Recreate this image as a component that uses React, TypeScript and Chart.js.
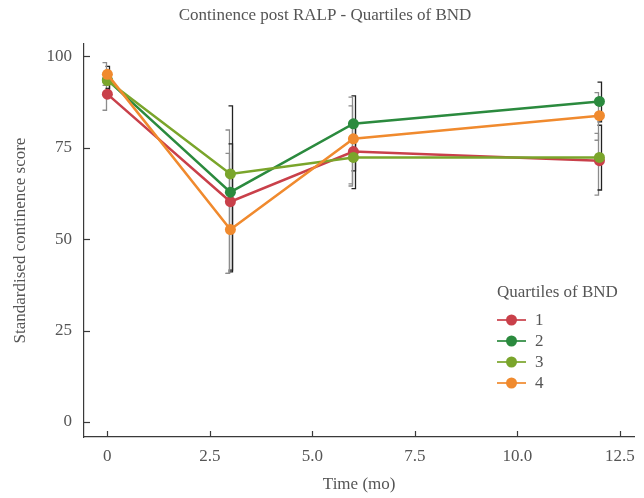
import React, { useEffect, useRef } from "react";
import { Chart, registerables } from "chart.js";

Chart.register(...registerables);

// ---- data ----
const months = [0, 3, 6, 12];
const groupNames = ["1", "2", "3", "4"];
const q1Mean = [89.6, 60.2, 73.9, 71.4];
const q2Mean = [93.5, 62.8, 81.5, 87.6];
const q3Mean = [93.3, 67.8, 72.3, 72.3];
const q4Mean = [95.0, 52.6, 77.4, 83.7];
const q1Low = [85.2, 40.6, 64.5, 62.0];
const q1High = [93.8, 79.8, 86.4, 78.9];
const q2Low = [90.0, 41.0, 68.6, 82.0];
const q2High = [97.2, 76.0, 89.1, 92.9];
const q3Low = [91.2, 41.5, 63.8, 63.4];
const q3High = [96.0, 86.4, 80.5, 81.1];
const q4Low = [92.0, 40.6, 65.1, 77.0];
const q4High = [98.2, 73.4, 88.8, 90.0];
const xTickValues = [0, 2.5, 5, 7.5, 10, 12.5];
const xTickLabels = ["0", "2.5", "5.0", "7.5", "10.0", "12.5"];
const yTickValues = [0, 25, 50, 75, 100];
const yTickLabels = ["0", "25", "50", "75", "100"];

const titleText = "Continence post RALP - Quartiles of BND";
const xTitle = "Time (mo)";
const yTitle = "Standardised continence score";
const legendTitle = "Quartiles of BND";

// ---- styles ----
const FONT = "'Liberation Serif', 'Times New Roman', serif";
const TEXT = "#555555";
const AXIS = "#3a3a3a";
const colors = ["#c9404a", "#2b8a3e", "#7aa52b", "#f08a2e"];
const errColors = ["#8c8c8c", "#222222", "#222222", "#8c8c8c"];
const errDx = [-1.5, 1.5, 1.5, -1.5];

const means = [q1Mean, q2Mean, q3Mean, q4Mean];
const lows = [q1Low, q2Low, q3Low, q4Low];
const highs = [q1High, q2High, q3High, q4High];

const errorBarPlugin = {
  id: "errorBars",
  beforeDatasetsDraw(chart: any) {
    const { ctx } = chart;
    const xs = chart.scales.x;
    const ys = chart.scales.y;
    ctx.save();
    ctx.lineWidth = 1.3;
    for (let i = 0; i < means.length; i++) {
      ctx.strokeStyle = errColors[i];
      months.forEach((m, j) => {
        const x = Math.round(xs.getPixelForValue(m) + errDx[i]) + 0.5;
        const yl = ys.getPixelForValue(lows[i][j]);
        const yh = ys.getPixelForValue(highs[i][j]);
        ctx.beginPath();
        ctx.moveTo(x - 4, yh);
        ctx.lineTo(x, yh);
        ctx.lineTo(x, yl);
        ctx.lineTo(x - 4, yl);
        ctx.stroke();
      });
    }
    ctx.restore();
  },
};

const innerTicksPlugin = {
  id: "innerTicks",
  afterDraw(chart: any) {
    const { ctx, chartArea } = chart;
    const xs = chart.scales.x;
    const ys = chart.scales.y;
    ctx.save();
    ctx.strokeStyle = AXIS;
    ctx.lineWidth = 1.2;
    yTickValues.forEach((v) => {
      const y = Math.round(ys.getPixelForValue(v)) + 0.5;
      ctx.beginPath();
      ctx.moveTo(chartArea.left, y);
      ctx.lineTo(chartArea.left + 6, y);
      ctx.stroke();
    });
    xTickValues.forEach((v) => {
      const x = Math.round(xs.getPixelForValue(v)) + 0.5;
      ctx.beginPath();
      ctx.moveTo(x, chartArea.bottom);
      ctx.lineTo(x, chartArea.bottom - 6);
      ctx.stroke();
    });
    ctx.restore();
  },
};

const titleAndLegendPlugin = {
  id: "titleAndLegend",
  afterDraw(chart: any) {
    const { ctx } = chart;
    ctx.save();
    ctx.font = `17px ${FONT}`;
    ctx.fillStyle = TEXT;
    ctx.textBaseline = "middle";
    ctx.textAlign = "center";
    ctx.fillText(titleText, 325, 16);
    ctx.textAlign = "left";
    ctx.fillText(legendTitle, 497, 293);
    const rowY = [320, 341, 362, 383];
    groupNames.forEach((name, i) => {
      const y = rowY[i];
      ctx.strokeStyle = colors[i];
      ctx.globalAlpha = 0.85;
      ctx.lineWidth = 2;
      ctx.beginPath();
      ctx.moveTo(497, y);
      ctx.lineTo(526, y);
      ctx.stroke();
      ctx.globalAlpha = 1;
      ctx.fillStyle = colors[i];
      ctx.beginPath();
      ctx.arc(511.5, y, 5.5, 0, Math.PI * 2);
      ctx.fill();
      ctx.fillStyle = TEXT;
      ctx.fillText(name, 535, y + 1);
    });
    ctx.restore();
  },
};

export default function App() {
  const canvasRef = useRef<HTMLCanvasElement | null>(null);

  useEffect(() => {
    if (!canvasRef.current) return;
    const datasets = means.map((vals, i) => ({
      label: groupNames[i],
      data: months.map((m, j) => ({ x: m, y: vals[j] })),
      borderColor: colors[i],
      backgroundColor: colors[i],
      borderWidth: 2.5,
      pointRadius: 5.5,
      pointHoverRadius: 5.5,
      pointBorderWidth: 0,
      showLine: true,
      order: 4 - i,
    }));

    const chart = new Chart(canvasRef.current, {
      type: "scatter",
      data: { datasets },
      options: {
        responsive: false,
        animation: false,
        devicePixelRatio: 1,
        layout: { padding: { left: 0, right: 7, top: 44, bottom: 0 } },
        plugins: {
          legend: { display: false },
          tooltip: { enabled: false },
          title: { display: false },
        },
        scales: {
          x: {
            type: "linear",
            min: -0.57,
            max: 12.85,
            afterFit: (s: any) => {
              s.height = 61;
            },
            afterBuildTicks: (s: any) => {
              s.ticks = xTickValues.map((v) => ({ value: v }));
            },
            grid: { display: false, drawTicks: false },
            border: { display: true, color: AXIS, width: 1.2 },
            ticks: {
              color: TEXT,
              font: { family: FONT, size: 17 },
              padding: 9,
              maxRotation: 0,
              autoSkip: false,
              callback: (v: any) => {
                const k = xTickValues.indexOf(Number(v));
                return k >= 0 ? xTickLabels[k] : "";
              },
            },
            title: {
              display: true,
              text: xTitle,
              color: TEXT,
              font: { family: FONT, size: 17 },
              padding: { top: 0, bottom: 3 },
            },
          },
          y: {
            type: "linear",
            min: -4.1,
            max: 103.3,
            afterFit: (s: any) => {
              s.width = 84;
            },
            afterBuildTicks: (s: any) => {
              s.ticks = yTickValues.map((v) => ({ value: v }));
            },
            grid: { display: false, drawTicks: false },
            border: { display: true, color: AXIS, width: 1.2 },
            ticks: {
              color: TEXT,
              font: { family: FONT, size: 17 },
              padding: 12,
              autoSkip: false,
              callback: (v: any) => {
                const k = yTickValues.indexOf(Number(v));
                return k >= 0 ? yTickLabels[k] : "";
              },
            },
            title: {
              display: true,
              text: yTitle,
              color: TEXT,
              font: { family: FONT, size: 17 },
              padding: { top: 10, bottom: 0 },
            },
          },
        },
      },
      plugins: [errorBarPlugin, innerTicksPlugin, titleAndLegendPlugin],
    } as any);
    return () => chart.destroy();
  }, []);

  return (
    <div style={{ position: "absolute", left: 0, top: 0, width: 644, height: 498, background: "#ffffff" }}>
      <canvas ref={canvasRef} width={644} height={498} />
    </div>
  );
}
